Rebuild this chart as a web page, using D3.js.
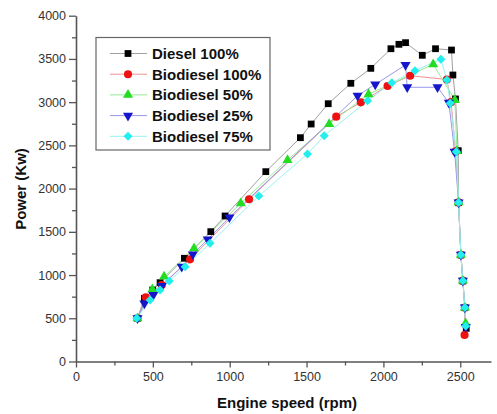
<!DOCTYPE html>
<html>
<head>
<meta charset="utf-8">
<script src="https://cdn.jsdelivr.net/npm/d3@7/dist/d3.min.js"></script>
<style>
  html, body { margin: 0; padding: 0; background: #fff; }
  svg { display: block; font-family: "Liberation Sans", Arial, sans-serif; }
</style>
</head>
<body>
<svg id="chart" width="497" height="414"></svg>
<script>
// Engine speed (rpm) / power (kW) for each fuel blend
const dieselSpeed   = [400, 445, 499, 547, 705, 877, 970, 1235, 1460, 1530, 1641, 1788, 1918, 2049, 2101, 2144, 2253, 2339, 2443, 2452, 2469, 2487, 2489, 2504, 2517, 2530, 2539];
const dieselPower   = [500, 731, 827, 912, 1194, 1502, 1683, 2196, 2589, 2747, 2982, 3218, 3391, 3618, 3669, 3688, 3542, 3618, 3603, 3314, 3037, 2439, 1837, 1232, 931, 622, 384];

const bio100Speed   = [400, 454, 558, 742, 1126, 1693, 1853, 2027, 2174, 2413, 2440, 2470, 2489, 2504, 2517, 2530, 2528];
const bio100Power   = [500, 743, 885, 1182, 1877, 2832, 2998, 3187, 3306, 3262, 3000, 2430, 1840, 1235, 935, 625, 306];

const bio50Speed    = [400, 497, 573, 768, 1072, 1376, 1647, 1903, 2324, 2465, 2478, 2489, 2504, 2517, 2530, 2535];
const bio50Power    = [500, 835, 981, 1309, 1830, 2331, 2747, 3091, 3438, 3025, 2435, 1840, 1235, 935, 625, 442];

const bio25Speed    = [400, 445, 503, 558, 688, 760, 857, 998, 1832, 1947, 2144, 2155, 2352, 2426, 2463, 2489, 2504, 2517, 2530, 2536];
const bio25Power    = [500, 673, 769, 873, 1097, 1240, 1413, 1668, 3075, 3206, 3430, 3172, 3172, 2993, 2427, 1840, 1235, 935, 625, 400];

const bio75Speed    = [395, 482, 547, 607, 710, 872, 1189, 1506, 1615, 1897, 2055, 2205, 2374, 2413, 2435, 2474, 2489, 2504, 2517, 2530, 2536];
const bio75Power    = [500, 711, 827, 931, 1097, 1367, 1914, 2400, 2612, 3017, 3225, 3364, 3496, 3256, 2987, 2427, 1840, 1235, 935, 625, 410];

const xTicks = [0, 500, 1000, 1500, 2000, 2500];
const yTicks = [0, 500, 1000, 1500, 2000, 2500, 3000, 3500, 4000];

const seriesNames = ["Diesel 100%", "Biodiesel 100%", "Biodiesel 50%", "Biodiesel 25%", "Biodiesel 75%"];

const series = [
  { name: seriesNames[0], speed: dieselSpeed, power: dieselPower, color: "#000000", line: "#a0a0a0", symbol: d3.symbolSquare,   size: 46, rot: 0 },
  { name: seriesNames[1], speed: bio100Speed, power: bio100Power, color: "#ee1111", line: "#f29090", symbol: d3.symbolCircle,   size: 52, rot: 0 },
  { name: seriesNames[2], speed: bio50Speed,  power: bio50Power,  color: "#22dd22", line: "#98ea98", symbol: d3.symbolTriangle, size: 44, rot: 0 },
  { name: seriesNames[3], speed: bio25Speed,  power: bio25Power,  color: "#1515cc", line: "#9898e8", symbol: d3.symbolTriangle, size: 44, rot: 180 },
  { name: seriesNames[4], speed: bio75Speed,  power: bio75Power,  color: "#22eeee", line: "#98f2f2", symbol: d3.symbolSquare,   size: 40, rot: 45 }
];

const svg = d3.select("#chart");
const x = d3.scaleLinear().domain([0, 2700]).range([76, 491]);
const y = d3.scaleLinear().domain([0, 4000]).range([361.5, 15.7]);

const axisColor = "#555";
const fmt = d3.format("d");

// X axis with major and minor ticks
const gx = svg.append("g").attr("transform", "translate(0,361.5)");
gx.call(d3.axisBottom(x).tickValues(d3.range(250, 2750, 500)).tickSize(4).tickFormat(""));
gx.call(g => g.select(".domain").remove());
const gxMaj = svg.append("g").attr("transform", "translate(0,361.5)")
  .call(d3.axisBottom(x).tickValues(xTicks).tickFormat(fmt).tickSize(6).tickPadding(5).tickSizeOuter(0));
[gx, gxMaj].forEach(g => {
  g.selectAll("line").attr("stroke", axisColor).attr("stroke-width", 1.3);
  g.selectAll("path").attr("stroke", axisColor).attr("stroke-width", 1.6);
  g.selectAll("text").attr("fill", "#333").attr("font-size", 12.5);
});

// Y axis with major and minor ticks
const gy = svg.append("g").attr("transform", "translate(76,0)");
gy.call(d3.axisLeft(y).tickValues(d3.range(250, 4000, 500)).tickSize(4).tickFormat(""));
gy.call(g => g.select(".domain").remove());
const gyMaj = svg.append("g").attr("transform", "translate(76,0)")
  .call(d3.axisLeft(y).tickValues(yTicks).tickFormat(fmt).tickSize(7).tickPadding(3).tickSizeOuter(0));
[gy, gyMaj].forEach(g => {
  g.selectAll("line").attr("stroke", axisColor).attr("stroke-width", 1.3);
  g.selectAll("path").attr("stroke", axisColor).attr("stroke-width", 1.6);
  g.selectAll("text").attr("fill", "#333").attr("font-size", 12.5);
});

// Axis titles
svg.append("text")
  .attr("transform", "translate(26,189) rotate(-90)")
  .attr("text-anchor", "middle")
  .attr("font-size", 15).attr("font-weight", "bold").attr("fill", "#111")
  .text("Power (Kw)");
svg.append("text")
  .attr("x", 287).attr("y", 408)
  .attr("text-anchor", "middle")
  .attr("font-size", 15).attr("font-weight", "bold").attr("fill", "#111")
  .text("Engine speed (rpm)");

// Lines and markers
const lineGen = d3.line().x(d => x(d[0])).y(d => y(d[1]));
series.forEach(s => {
  const pts = s.speed.map((v, i) => [v, s.power[i]]);
  svg.append("path")
    .attr("d", lineGen(pts))
    .attr("fill", "none")
    .attr("stroke", s.line)
    .attr("stroke-width", 1);
});
series.forEach(s => {
  const pts = s.speed.map((v, i) => [v, s.power[i]]);
  const sym = d3.symbol().type(s.symbol).size(s.size);
  svg.append("g").selectAll("path")
    .data(pts)
    .join("path")
    .attr("d", sym)
    .attr("transform", d => `translate(${x(d[0])},${y(d[1])}) rotate(${s.rot})`)
    .attr("fill", s.color);
});

// Legend
const legend = svg.append("g");
legend.append("rect")
  .attr("x", 96).attr("y", 37.5).attr("width", 174).attr("height", 112.5)
  .attr("fill", "#fff").attr("stroke", "#666").attr("stroke-width", 1.2);
series.forEach((s, i) => {
  const cy = 53.5 + i * 20.7;
  legend.append("line")
    .attr("x1", 110).attr("x2", 147).attr("y1", cy).attr("y2", cy)
    .attr("stroke", s.line).attr("stroke-width", 1);
  legend.append("path")
    .attr("d", d3.symbol().type(s.symbol).size(s.size)())
    .attr("transform", `translate(128,${cy}) rotate(${s.rot})`)
    .attr("fill", s.color);
  legend.append("text")
    .attr("x", 152).attr("y", cy + 5.3)
    .attr("font-size", 15).attr("font-weight", "bold").attr("fill", "#111")
    .text(s.name);
});
</script>
</body>
</html>
